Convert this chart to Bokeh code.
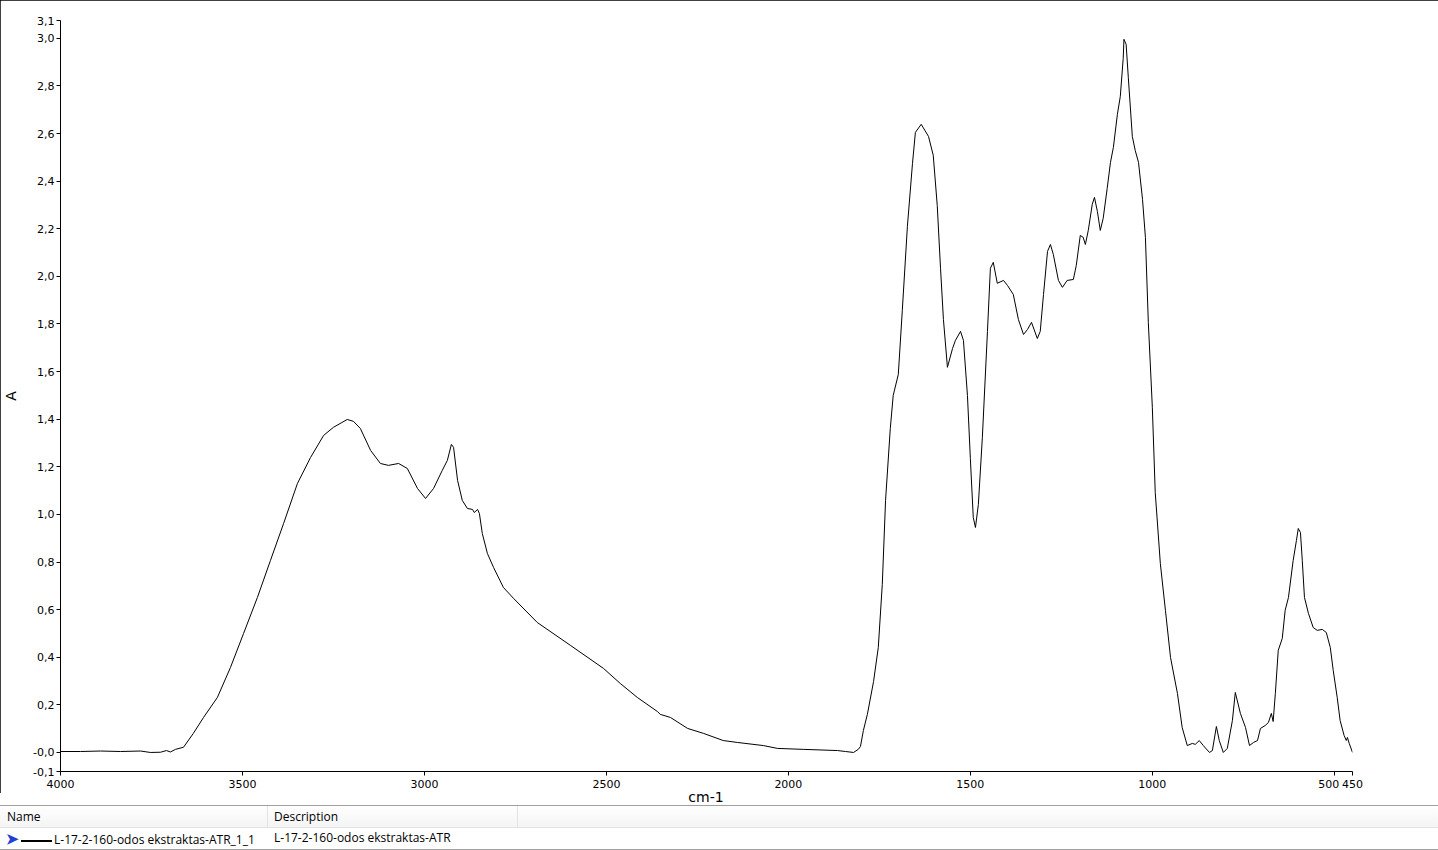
from bokeh.plotting import figure
from bokeh.models import Range1d, FixedTicker, Div, CustomJSTickFormatter
from bokeh.layouts import column
from bokeh.embed import file_html
from bokeh.resources import INLINE

wavenumber = [4000, 3945, 3890, 3835, 3780, 3753, 3725, 3709, 3698, 3684, 3662, 3635, 3607, 3569, 3533,
              3497, 3459, 3423, 3387, 3349, 3313, 3277, 3250, 3212, 3195, 3176, 3148, 3121, 3099, 3071,
              3047, 3019, 2997, 2975, 2951, 2937, 2926, 2920, 2909, 2896, 2882, 2868, 2863, 2854, 2849,
              2841, 2827, 2810, 2783, 2755, 2690, 2599, 2508, 2462, 2415, 2360, 2352, 2324, 2277, 2233,
              2179, 2140, 2069, 2030, 1959, 1865, 1843, 1821, 1808, 1802, 1794, 1783, 1766, 1753, 1742,
              1733, 1720, 1712, 1698, 1687, 1673, 1659, 1651, 1635, 1615, 1602, 1591, 1582, 1574, 1563,
              1549, 1541, 1527, 1519, 1508, 1500, 1492, 1486, 1478, 1467, 1453, 1445, 1437, 1426, 1409,
              1398, 1382, 1368, 1354, 1343, 1332, 1316, 1308, 1299, 1288, 1280, 1272, 1258, 1247, 1234,
              1217, 1209, 1198, 1190, 1184, 1176, 1165, 1159, 1151, 1143, 1135, 1124, 1115, 1107, 1096,
              1088, 1080, 1078, 1072, 1066, 1055, 1047, 1038, 1027, 1019, 1011, 1000, 992, 978, 964,
              950, 931, 918, 904, 890, 882, 871, 860, 843, 835, 824, 816, 805, 794, 780,
              772, 758, 744, 733, 722, 711, 703, 690, 681, 673, 668, 662, 654, 643, 635,
              626, 613, 604, 599, 593, 588, 582, 571, 558, 547, 533, 522, 511, 503, 492,
              484, 473, 467, 464, 459, 450]

absorbance = [0.004, 0.004, 0.006, 0.004, 0.006, 0.000, 0.001, 0.008, 0.002, 0.013, 0.022, 0.080, 0.147, 0.231, 0.357,
              0.500, 0.651, 0.807, 0.962, 1.130, 1.239, 1.332, 1.366, 1.399, 1.391, 1.361, 1.269, 1.214, 1.206, 1.214,
              1.193, 1.109, 1.067, 1.109, 1.185, 1.227, 1.294, 1.282, 1.143, 1.059, 1.025, 1.021, 1.008, 1.021, 1.004,
              0.920, 0.836, 0.777, 0.693, 0.647, 0.546, 0.450, 0.353, 0.290, 0.231, 0.172, 0.160, 0.147, 0.101, 0.080,
              0.050, 0.042, 0.029, 0.017, 0.013, 0.008, 0.004, 0.000, 0.013, 0.025, 0.092, 0.160, 0.298, 0.441, 0.706,
              1.059, 1.361, 1.500, 1.588, 1.857, 2.210, 2.475, 2.605, 2.639, 2.588, 2.509, 2.298, 2.034, 1.819, 1.618,
              1.697, 1.731, 1.769, 1.731, 1.500, 1.235, 0.987, 0.945, 1.042, 1.324, 1.769, 2.034, 2.059, 1.971, 1.983,
              1.962, 1.924, 1.819, 1.756, 1.777, 1.807, 1.739, 1.769, 1.924, 2.105, 2.134, 2.092, 1.983, 1.954, 1.983,
              1.987, 2.046, 2.172, 2.164, 2.134, 2.193, 2.303, 2.332, 2.273, 2.193, 2.244, 2.370, 2.479, 2.542, 2.681,
              2.756, 2.916, 2.996, 2.975, 2.836, 2.588, 2.529, 2.479, 2.324, 2.164, 1.807, 1.450, 1.092, 0.794, 0.597,
              0.399, 0.248, 0.105, 0.029, 0.038, 0.034, 0.050, 0.029, 0.000, 0.008, 0.109, 0.050, 0.000, 0.017, 0.134,
              0.252, 0.164, 0.105, 0.029, 0.042, 0.050, 0.101, 0.113, 0.126, 0.164, 0.130, 0.248, 0.429, 0.479, 0.597,
              0.651, 0.807, 0.891, 0.941, 0.924, 0.807, 0.651, 0.584, 0.525, 0.513, 0.517, 0.504, 0.441, 0.345, 0.231,
              0.134, 0.071, 0.050, 0.063, 0.038, 0.000]

x_ticks = [4000, 3500, 3000, 2500, 2000, 1500, 1000, 500, 450]
x_tick_labels = ["4000", "3500", "3000", "2500", "2000", "1500", "1000", "500", "450"]
y_ticks = [-0.08, 0.0, 0.2, 0.4, 0.6, 0.8, 1.0, 1.2, 1.4, 1.6, 1.8, 2.0, 2.2, 2.4, 2.6, 2.8, 3.0, 3.075]
y_tick_labels = ["-0,1", "-0,0", "0,2", "0,4", "0,6", "0,8", "1,0", "1,2", "1,4", "1,6", "1,8",
                 "2,0", "2,2", "2,4", "2,6", "2,8", "3,0", "3,1"]

x_title = "cm-1"
y_title = "A"
series_name = "L-17-2-160-odos ekstraktas-ATR_1_1"
series_description = "L-17-2-160-odos ekstraktas-ATR"

FONT = "DejaVu Sans"
W = 1438
H = 793      # figure (plot frame + tick labels)
LH = 12      # strip holding the x-axis title
TH = 45      # table below
LEFT, RIGHT, TOP, BOTTOM = 60, 86, 20, 22

p = figure(width=W, height=H, output_backend="svg", toolbar_location=None,
           x_range=Range1d(4000, 450), y_range=Range1d(-0.08, 3.075),
           min_border_left=LEFT, min_border_right=RIGHT, min_border_top=TOP, min_border_bottom=BOTTOM)
p.outline_line_color = None
p.grid.visible = False
p.background_fill_color = "white"
p.border_fill_color = "white"

p.line(wavenumber, absorbance, line_color="black", line_width=1)

lookup_code = """
let best = 0, d = Infinity;
for (let i = 0; i < vals.length; i++) {
  const e = Math.abs(vals[i] - tick);
  if (e < d) { d = e; best = i; }
}
let s = labs[best];
if (pad && vals[best] == 500) { s = s + "\\u2003"; }
return s;
"""

xa = p.xaxis[0]
xa.ticker = FixedTicker(ticks=x_ticks)
xa.formatter = CustomJSTickFormatter(args=dict(vals=x_ticks, labs=x_tick_labels, pad=True), code=lookup_code)
ya = p.yaxis[0]
ya.ticker = FixedTicker(ticks=y_ticks)
ya.formatter = CustomJSTickFormatter(args=dict(vals=y_ticks, labs=y_tick_labels, pad=False), code=lookup_code)

for ax in (xa, ya):
    ax.axis_line_color = "black"
    ax.major_tick_line_color = "black"
    ax.minor_tick_line_color = None
    ax.major_tick_in = 0
    ax.major_tick_out = 4
    ax.major_label_standoff = 2
    ax.major_label_text_font = FONT
    ax.major_label_text_font_size = "11px"
    ax.major_label_text_color = "black"
    ax.axis_label_text_font = FONT
    ax.axis_label_text_font_size = "14px"
    ax.axis_label_text_font_style = "normal"
    ax.axis_label_text_color = "black"

ya.axis_label = y_title
ya.axis_label_standoff = 11

frame_center = LEFT + (W - LEFT - RIGHT) / 2
xlabel_html = f"""
<div style="position:relative;width:{W}px;height:{LH}px;margin:0;background:#fff;">
  <span style="position:absolute;left:{frame_center}px;top:-4px;transform:translateX(-50%);
               font-family:'{FONT}';font-size:14px;color:#000;white-space:nowrap;line-height:16px;">{x_title}</span>
</div>
"""
xlabel = Div(text=xlabel_html, width=W, height=LH, styles={"margin": "0", "padding": "0"})

table_html = f"""
<div style="width:{W}px;height:{TH}px;box-sizing:border-box;font-family:'Open Sans',sans-serif;font-size:12px;color:#000;
            border-top:1px solid #a0a0a0;border-bottom:1px solid #a0a0a0;background:#fff;overflow:hidden;margin:0;">
  <div style="display:flex;height:22px;line-height:22px;background:linear-gradient(#ffffff,#f4f4f4);border-bottom:1px solid #e3e3e3;">
    <div style="box-sizing:border-box;width:268px;padding-left:7px;border-right:1px solid #e3e3e3;">Name</div>
    <div style="box-sizing:border-box;width:250px;padding-left:6px;border-right:1px solid #e3e3e3;">Description</div>
    <div style="flex:1;"></div>
  </div>
  <div style="display:flex;height:20px;line-height:20px;">
    <div style="box-sizing:border-box;width:268px;padding-left:6px;white-space:nowrap;">
      <span style="color:#1f3fd6;font-size:15px;font-weight:bold;">&#10148;</span><span style="display:inline-block;width:31px;border-top:2px solid #000;vertical-align:middle;margin-left:2px;margin-right:2px;"></span>{series_name}
    </div>
    <div style="box-sizing:border-box;width:250px;padding-left:6px;white-space:nowrap;">{series_description}</div>
  </div>
</div>
"""
table = Div(text=table_html, width=W, height=TH, styles={"margin": "0", "padding": "0"})

chart_panel = column(p, xlabel, spacing=0,
                     styles={"outline": "1px solid black", "outline-offset": "-1px"})
layout = column(chart_panel, table, spacing=0)
open("out.html", "w").write(file_html(layout, INLINE))
